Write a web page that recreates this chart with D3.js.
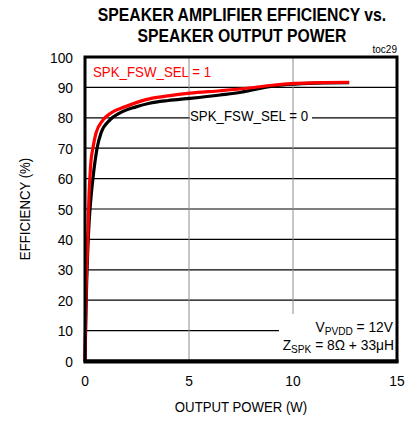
<!DOCTYPE html>
<html>
<head>
<meta charset="utf-8">
<script src="https://cdn.jsdelivr.net/npm/d3@7"></script>
<style>
  html, body { margin: 0; padding: 0; background: #fff; }
  svg { display: block; font-family: "Liberation Sans", Arial, sans-serif; }
</style>
</head>
<body>
<svg id="chart" width="412" height="421"></svg>
<script>
// Efficiency curves, output power in W vs efficiency in %
const powerSel1 = [0, 0.03, 0.06, 0.1, 0.14, 0.19, 0.24, 0.29, 0.38, 0.53, 0.87, 1.25, 1.92, 2.88, 4.0, 5.05, 6.5, 7.9, 9.0, 10.1, 11.5, 12.7];
const effSel1   = [0, 15, 26, 34, 42, 54, 61, 66, 70, 75, 79.3, 81.6, 83.6, 85.9, 87.2, 88.1, 88.9, 89.8, 90.7, 91.3, 91.6, 91.7];

const powerSel0 = [0, 0.04, 0.08, 0.13, 0.2, 0.29, 0.38, 0.58, 0.77, 1.2, 1.68, 2.45, 3.1, 4.0, 5.05, 6.5, 7.5, 8.4, 9.2, 10.1, 11.5, 12.7];
const effSel0   = [0, 14, 26, 36, 46, 54, 60, 70, 75, 79.3, 81.6, 83.6, 84.8, 85.7, 86.4, 87.5, 88.4, 89.7, 90.6, 91.1, 91.5, 91.6];

const xTicks = [0, 5, 10, 15];
const yTicks = [0, 10, 20, 30, 40, 50, 60, 70, 80, 90, 100];

const svg = d3.select("#chart");
const L = 85, R = 397, T = 57, B = 361;
const x = d3.scaleLinear().domain([0, 15]).range([L, R]);
const y = d3.scaleLinear().domain([0, 100]).range([B, T]);

// text helper with slight horizontal condensing
function label(txt, px, py, opt) {
  const o = Object.assign({ size: 14, k: 0.9, anchor: "start", weight: "normal", fill: "#000" }, opt || {});
  const g = svg.append("g").attr("transform", `translate(${px},${py}) scale(${o.k},1)`);
  const t = g.append("text")
    .attr("text-anchor", o.anchor)
    .attr("font-size", o.size)
    .attr("font-weight", o.weight)
    .attr("fill", o.fill);
  if (typeof txt === "string") t.text(txt);
  else txt(t);
  return g;
}

// horizontal grid (black)
svg.append("g").selectAll("line").data(yTicks.filter(d => d > 0 && d < 100)).join("line")
  .attr("x1", L).attr("x2", R)
  .attr("y1", d => y(d)).attr("y2", d => y(d))
  .attr("stroke", "#000").attr("stroke-width", 1.2);

// white backing behind the SEL = 0 label
svg.append("rect").attr("x", 190).attr("y", 110).attr("width", 122).attr("height", 14).attr("fill", "#fff");

// vertical grid (gray)
svg.append("g").selectAll("line").data(xTicks.filter(d => d > 0 && d < 15)).join("line")
  .attr("x1", d => x(d)).attr("x2", d => x(d))
  .attr("y1", T).attr("y2", B)
  .attr("stroke", "#8c8c8c").attr("stroke-width", 1);

// condition box
svg.append("rect").attr("x", 279).attr("y", 314).attr("width", R - 279).attr("height", B - 314).attr("fill", "#fff");

// curves
const line = d3.line().x(d => x(d[0])).y(d => y(d[1])).curve(d3.curveMonotoneX);
svg.append("path").datum(d3.zip(powerSel0, effSel0)).attr("d", line)
  .attr("fill", "none").attr("stroke", "#000").attr("stroke-width", 3.2).attr("stroke-linejoin", "round");
svg.append("path").datum(d3.zip(powerSel1, effSel1)).attr("d", line)
  .attr("fill", "none").attr("stroke", "#ff0000").attr("stroke-width", 3.2).attr("stroke-linejoin", "round");

// frame
svg.append("rect").attr("x", L).attr("y", T).attr("width", R - L).attr("height", B - T)
  .attr("fill", "none").attr("stroke", "#000").attr("stroke-width", 3);
svg.append("line").attr("x1", L - 1.5).attr("x2", R + 1.5).attr("y1", B + 0.5).attr("y2", B + 0.5)
  .attr("stroke", "#000").attr("stroke-width", 4);

// tick labels
yTicks.forEach(v => label(String(v), 73, y(v) + 5.5, { size: 15, k: 0.92, anchor: "end" }));
xTicks.forEach(v => label(String(v), x(v), 386, { size: 15, k: 0.92, anchor: "middle" }));

// axis titles
label("OUTPUT POWER (W)", 241, 412, { size: 15, k: 0.88, anchor: "middle" });
svg.append("g").attr("transform", "translate(30,209) rotate(-90) scale(0.88,1)")
  .append("text").attr("text-anchor", "middle").attr("font-size", 15).text("EFFICIENCY (%)");

// title
label("SPEAKER AMPLIFIER EFFICIENCY vs.", 242, 21, { size: 17.5, k: 0.9, anchor: "middle", weight: "bold" });
label("SPEAKER OUTPUT POWER", 242, 42, { size: 17.5, k: 0.9, anchor: "middle", weight: "bold" });
label("toc29", 397, 53, { size: 10, k: 1, anchor: "end" });

// series labels
label("SPK_FSW_SEL = 1", 93, 77, { size: 14, k: 0.95, fill: "#ff0000" });
label("SPK_FSW_SEL = 0", 190, 121, { size: 14, k: 0.95 });

// conditions
label(t => {
  t.append("tspan").text("V");
  t.append("tspan").attr("font-size", 11).attr("dy", 3).text("PVDD");
  t.append("tspan").attr("dy", -3).text(" = 12V");
}, 393, 332, { size: 15, k: 0.92, anchor: "end" });
label(t => {
  t.append("tspan").text("Z");
  t.append("tspan").attr("font-size", 11).attr("dy", 3).text("SPK");
  t.append("tspan").attr("dy", -3).text(" = 8Ω + 33μH");
}, 394, 350, { size: 15, k: 0.92, anchor: "end" });
</script>
</body>
</html>
